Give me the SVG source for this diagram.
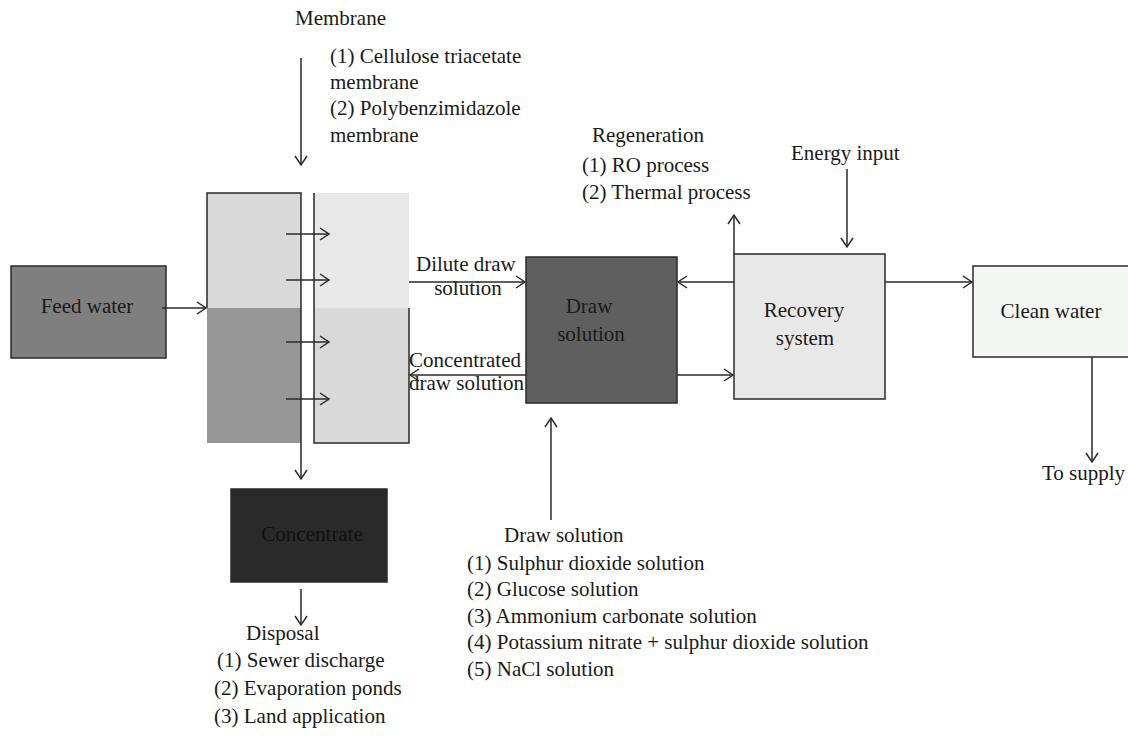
<svg xmlns="http://www.w3.org/2000/svg" width="1128" height="739" viewBox="0 0 1128 739">
<style>
text{font-family:"Liberation Serif","Times New Roman",serif;font-size:21px;fill:#1a1a1a}
.c{text-anchor:middle}
.box{stroke:#2a2a2a;stroke-width:1.5}
.ln{stroke:#2a2a2a;stroke-width:1.5;fill:none}
.ar{stroke:#2a2a2a;stroke-width:1.5;fill:none;marker-end:url(#ah)}
</style>
<defs>
<marker id="ah" markerUnits="userSpaceOnUse" markerWidth="14" markerHeight="16" viewBox="-11 -8 14 16" refX="0" refY="0" orient="auto">
<path d="M-9,-6 L0,0 L-9,6" fill="none" stroke="#2a2a2a" stroke-width="1.5"/>
</marker>
</defs>
<rect width="1128" height="739" fill="#ffffff"/>

<g id="membrane-label">
<text x="295" y="25">Membrane</text>
<text x="330" y="63">(1) Cellulose triacetate</text>
<text x="330" y="89">membrane</text>
<text x="330" y="115">(2) Polybenzimidazole</text>
<text x="330" y="142">membrane</text>
</g>

<g id="feed-water">
<rect class="box" x="11" y="266" width="155" height="92" fill="#7f7f7f"/>
<text class="c" x="87" y="313">Feed water</text>
</g>

<g id="membrane-cell">
<rect x="207" y="193" width="94" height="115" fill="#d9d9d9"/>
<rect x="207" y="308" width="94" height="135" fill="#969696"/>
<rect x="314" y="193" width="95" height="115" fill="#e8e8e8"/>
<rect x="314" y="308" width="95" height="135" fill="#d9d9d9"/>
<path class="ln" d="M207,308 V193 H301 V443"/>
<path class="ln" d="M314,193 V443 H409 V308"/>
</g>

<g id="draw-solution">
<rect class="box" x="526" y="257" width="151" height="146" fill="#5f5f5f"/>
<text class="c" x="589" y="313">Draw</text>
<text class="c" x="591" y="341">solution</text>
</g>

<g id="recovery-system">
<rect class="box" x="734" y="254" width="151" height="145" fill="#e8e8e8"/>
<text class="c" x="804" y="317">Recovery</text>
<text class="c" x="805" y="345">system</text>
</g>

<g id="clean-water">
<rect class="box" x="973" y="266" width="160" height="91" fill="#f4f6f4"/>
<text class="c" x="1051" y="318">Clean water</text>
</g>

<g id="concentrate">
<rect class="box" x="231" y="489" width="156" height="93" fill="#2a2a2a"/>
<text class="c" x="312" y="541" style="fill:#111111">Concentrate</text>
</g>

<g id="regeneration-label">
<text x="592" y="142">Regeneration</text>
<text x="582" y="172">(1) RO process</text>
<text x="582" y="199">(2) Thermal process</text>
</g>

<g id="energy-label">
<text x="791" y="160">Energy input</text>
</g>

<g id="supply-label">
<text x="1042" y="480">To supply</text>
</g>

<g id="disposal-label">
<text x="246" y="640">Disposal</text>
<text x="217" y="667">(1) Sewer discharge</text>
<text x="214" y="695">(2) Evaporation ponds</text>
<text x="214" y="723">(3) Land application</text>
</g>

<g id="draw-solution-label">
<text x="504" y="542">Draw solution</text>
<text x="467" y="570">(1) Sulphur dioxide solution</text>
<text x="467" y="596">(2) Glucose solution</text>
<text x="467" y="623">(3) Ammonium carbonate solution</text>
<text x="467" y="649">(4) Potassium nitrate + sulphur dioxide solution</text>
<text x="467" y="676">(5) NaCl solution</text>
</g>

<g id="stream-labels">
<text x="416" y="271">Dilute draw</text>
<text class="c" x="468" y="295">solution</text>
<text x="409" y="367">Concentrated</text>
<text x="409" y="390">draw solution</text>
</g>

<g id="connectors">
<path class="ar" d="M301,58 V165"/>
<path class="ar" d="M162,308 H206"/>
<path class="ar" d="M286,234 H329"/>
<path class="ar" d="M286,280 H329"/>
<path class="ar" d="M286,342 H329"/>
<path class="ar" d="M286,399 H329"/>
<path class="ar" d="M301,443 V479"/>
<path class="ar" d="M301,589 V625"/>
<path class="ar" d="M409,282 H525"/>
<path class="ar" d="M526,375 H410"/>
<path class="ar" d="M551,520 V418"/>
<path class="ar" d="M734,282 H678"/>
<path class="ar" d="M677,375 H733"/>
<path class="ar" d="M734,254 V215"/>
<path class="ar" d="M847,169 V247"/>
<path class="ar" d="M885,282 H972"/>
<path class="ar" d="M1092,357 V462"/>
</g>
</svg>
